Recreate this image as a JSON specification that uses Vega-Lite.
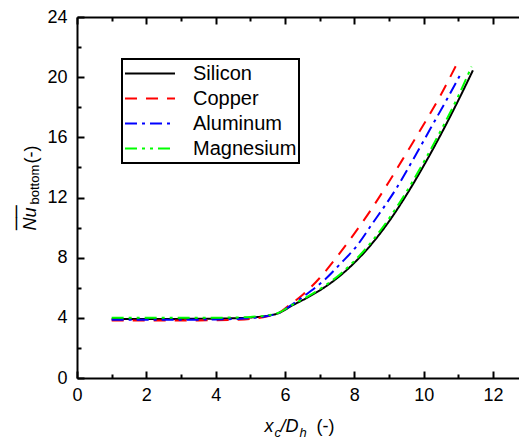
{
  "$schema": "https://vega.github.io/schema/vega-lite/v6.json",
  "width": 442,
  "height": 361,
  "autosize": {"type": "none"},
  "padding": {"left": 77, "top": 17, "right": 0, "bottom": 67},
  "background": "white",
  "config": {
    "view": {"stroke": null},
    "axis": {
      "grid": false,
      "domainColor": "black",
      "domainWidth": 2,
      "tickColor": "black",
      "tickWidth": 2,
      "labelFont": "Liberation Sans",
      "labelFontSize": 18,
      "labelColor": "black",
      "labelFlush": false,
      "labelOverlap": false,
      "titleFont": "Liberation Sans",
      "titleColor": "black",
      "titleFontWeight": "normal",
      "titleAlign": "left",
      "titleBaseline": "alphabetic"
    }
  },
  "data": {
    "values": [
      {"material": "Silicon", "x": 1.0, "y": 3.93},
      {"material": "Silicon", "x": 1.5, "y": 3.93},
      {"material": "Silicon", "x": 2.0, "y": 3.93},
      {"material": "Silicon", "x": 2.5, "y": 3.93},
      {"material": "Silicon", "x": 3.0, "y": 3.93},
      {"material": "Silicon", "x": 3.5, "y": 3.94},
      {"material": "Silicon", "x": 4.0, "y": 3.95},
      {"material": "Silicon", "x": 4.5, "y": 3.97},
      {"material": "Silicon", "x": 5.0, "y": 4.02},
      {"material": "Silicon", "x": 5.5, "y": 4.14},
      {"material": "Silicon", "x": 5.8, "y": 4.3},
      {"material": "Silicon", "x": 6.23, "y": 4.85},
      {"material": "Silicon", "x": 6.6, "y": 5.29},
      {"material": "Silicon", "x": 7.1, "y": 5.97},
      {"material": "Silicon", "x": 7.6, "y": 6.82},
      {"material": "Silicon", "x": 8.0, "y": 7.66},
      {"material": "Silicon", "x": 8.5, "y": 8.91},
      {"material": "Silicon", "x": 9.0, "y": 10.41},
      {"material": "Silicon", "x": 9.5, "y": 12.16},
      {"material": "Silicon", "x": 10.0, "y": 14.11},
      {"material": "Silicon", "x": 10.5, "y": 16.21},
      {"material": "Silicon", "x": 11.0, "y": 18.46},
      {"material": "Silicon", "x": 11.42, "y": 20.45},
      {"material": "Copper", "x": 1.0, "y": 3.82},
      {"material": "Copper", "x": 1.5, "y": 3.82},
      {"material": "Copper", "x": 2.0, "y": 3.82},
      {"material": "Copper", "x": 2.5, "y": 3.82},
      {"material": "Copper", "x": 3.0, "y": 3.82},
      {"material": "Copper", "x": 3.5, "y": 3.83},
      {"material": "Copper", "x": 4.0, "y": 3.84},
      {"material": "Copper", "x": 4.5, "y": 3.86},
      {"material": "Copper", "x": 5.0, "y": 3.92},
      {"material": "Copper", "x": 5.5, "y": 4.1},
      {"material": "Copper", "x": 5.8, "y": 4.3},
      {"material": "Copper", "x": 6.1, "y": 4.8},
      {"material": "Copper", "x": 6.52, "y": 5.55},
      {"material": "Copper", "x": 7.0, "y": 6.65},
      {"material": "Copper", "x": 7.48, "y": 8.0},
      {"material": "Copper", "x": 8.0, "y": 9.6},
      {"material": "Copper", "x": 8.5, "y": 11.25},
      {"material": "Copper", "x": 9.0, "y": 13.05},
      {"material": "Copper", "x": 9.5, "y": 14.94},
      {"material": "Copper", "x": 10.0, "y": 16.85},
      {"material": "Copper", "x": 10.5, "y": 18.85},
      {"material": "Copper", "x": 11.04, "y": 21.26},
      {"material": "Aluminum", "x": 1.0, "y": 3.87},
      {"material": "Aluminum", "x": 1.5, "y": 3.87},
      {"material": "Aluminum", "x": 2.0, "y": 3.87},
      {"material": "Aluminum", "x": 2.5, "y": 3.87},
      {"material": "Aluminum", "x": 3.0, "y": 3.87},
      {"material": "Aluminum", "x": 3.5, "y": 3.88},
      {"material": "Aluminum", "x": 4.0, "y": 3.89},
      {"material": "Aluminum", "x": 4.5, "y": 3.92},
      {"material": "Aluminum", "x": 5.0, "y": 3.98},
      {"material": "Aluminum", "x": 5.5, "y": 4.12},
      {"material": "Aluminum", "x": 5.8, "y": 4.3},
      {"material": "Aluminum", "x": 6.1, "y": 4.72},
      {"material": "Aluminum", "x": 6.52, "y": 5.4},
      {"material": "Aluminum", "x": 7.19, "y": 6.63},
      {"material": "Aluminum", "x": 7.6, "y": 7.6},
      {"material": "Aluminum", "x": 8.06, "y": 8.75},
      {"material": "Aluminum", "x": 8.5, "y": 10.2},
      {"material": "Aluminum", "x": 9.21, "y": 12.6},
      {"material": "Aluminum", "x": 9.69, "y": 14.5},
      {"material": "Aluminum", "x": 10.2, "y": 16.6},
      {"material": "Aluminum", "x": 10.7, "y": 18.65},
      {"material": "Aluminum", "x": 11.1, "y": 20.35},
      {"material": "Magnesium", "x": 1.0, "y": 4.0},
      {"material": "Magnesium", "x": 1.5, "y": 4.0},
      {"material": "Magnesium", "x": 2.0, "y": 4.0},
      {"material": "Magnesium", "x": 2.5, "y": 4.0},
      {"material": "Magnesium", "x": 3.0, "y": 4.0},
      {"material": "Magnesium", "x": 3.5, "y": 4.0},
      {"material": "Magnesium", "x": 4.0, "y": 4.01},
      {"material": "Magnesium", "x": 4.5, "y": 4.02},
      {"material": "Magnesium", "x": 5.0, "y": 4.06},
      {"material": "Magnesium", "x": 5.5, "y": 4.17},
      {"material": "Magnesium", "x": 5.8, "y": 4.32},
      {"material": "Magnesium", "x": 6.23, "y": 4.9},
      {"material": "Magnesium", "x": 6.6, "y": 5.35},
      {"material": "Magnesium", "x": 7.1, "y": 6.05},
      {"material": "Magnesium", "x": 7.6, "y": 6.92},
      {"material": "Magnesium", "x": 8.0, "y": 7.78},
      {"material": "Magnesium", "x": 8.5, "y": 9.06},
      {"material": "Magnesium", "x": 9.0, "y": 10.6},
      {"material": "Magnesium", "x": 9.5, "y": 12.37},
      {"material": "Magnesium", "x": 10.0, "y": 14.35},
      {"material": "Magnesium", "x": 10.5, "y": 16.47},
      {"material": "Magnesium", "x": 11.0, "y": 18.75},
      {"material": "Magnesium", "x": 11.38, "y": 20.7}
    ]
  },
  "resolve": {"axis": {"x": "independent", "y": "independent"}},
  "layer": [
    {
      "mark": {"type": "line", "strokeWidth": 2, "interpolate": "monotone"},
      "encoding": {
        "x": {
          "field": "x", "type": "quantitative",
          "scale": {"domain": [0, 12.75], "nice": false, "zero": false},
          "axis": {
            "orient": "bottom", "values": [0, 2, 4, 6, 8, 10, 12],
            "ticks": false, "labelPadding": 8, "domain": true,
            "title": "x", "titleFontStyle": "italic", "titleFontSize": 18,
            "titleX": 187, "titleY": 53, "titleAngle": 0
          }
        },
        "y": {
          "field": "y", "type": "quantitative",
          "scale": {"domain": [0, 24], "nice": false, "zero": false},
          "axis": {
            "orient": "left", "values": [0, 4, 8, 12, 16, 20, 24],
            "ticks": false, "labelPadding": 10, "domain": true,
            "title": "Nu", "titleFontStyle": "italic", "titleFontSize": 18,
            "titleX": -42, "titleY": 213, "titleAngle": -90
          }
        },
        "color": {
          "field": "material", "type": "nominal",
          "scale": {"domain": ["Silicon", "Copper", "Aluminum", "Magnesium"], "range": ["#000000", "#ff0000", "#0000ff", "#00ff00"]},
          "legend": {
            "title": null, "orient": "none", "legendX": 45, "legendY": 42,
            "symbolType": "stroke", "symbolSize": 2500, "symbolStrokeWidth": 2,
            "labelFont": "Liberation Sans", "labelFontSize": 20, "labelColor": "black",
            "labelOffset": 17, "padding": 2, "clipHeight": 25, "rowPadding": 0,
            "strokeColor": "black",
            "encode": {"legend": {"update": {"strokeWidth": {"value": 2}}}}
          }
        },
        "strokeDash": {
          "field": "material", "type": "nominal",
          "scale": {"domain": ["Silicon", "Copper", "Aluminum", "Magnesium"], "range": [[1, 0], [12, 9], [12, 5, 3, 5], [12, 5, 3, 5, 3, 5]]},
          "legend": {
            "title": null, "orient": "none", "legendX": 45, "legendY": 42,
            "symbolType": "stroke", "symbolSize": 2500, "symbolStrokeWidth": 2,
            "labelFont": "Liberation Sans", "labelFontSize": 20, "labelColor": "black",
            "labelOffset": 17, "padding": 2, "clipHeight": 25, "rowPadding": 0,
            "strokeColor": "black",
            "encode": {"legend": {"update": {"strokeWidth": {"value": 2}}}}
          }
        }
      }
    },
    {
      "mark": {"type": "point", "opacity": 0, "size": 0},
      "encoding": {
        "x": {
          "field": "x", "type": "quantitative",
          "scale": {"domain": [0, 12.75], "nice": false, "zero": false},
          "axis": {
            "orient": "bottom", "values": [0, 2, 4, 6, 8, 10, 12],
            "ticks": true, "tickSize": -7, "labels": false, "domain": false,
            "title": "c", "titleFontStyle": "italic", "titleFontSize": 13,
            "titleX": 197, "titleY": 58, "titleAngle": 0
          }
        },
        "y": {
          "field": "y", "type": "quantitative",
          "scale": {"domain": [0, 24], "nice": false, "zero": false},
          "axis": {
            "orient": "left", "values": [0, 4, 8, 12, 16, 20, 24],
            "ticks": true, "tickSize": -7, "labels": false, "domain": false,
            "title": "bottom", "titleFontSize": 13,
            "titleX": -39, "titleY": 187, "titleAngle": -90
          }
        }
      }
    },
    {
      "mark": {"type": "point", "opacity": 0, "size": 0},
      "encoding": {
        "x": {
          "field": "x", "type": "quantitative",
          "scale": {"domain": [0, 12.75], "nice": false, "zero": false},
          "axis": {
            "orient": "bottom", "values": [1, 3, 5, 7, 9, 11],
            "ticks": true, "tickSize": -4, "labels": false, "domain": false,
            "title": "/D", "titleFontStyle": "italic", "titleFontSize": 18,
            "titleX": 203, "titleY": 53, "titleAngle": 0
          }
        },
        "y": {
          "field": "y", "type": "quantitative",
          "scale": {"domain": [0, 24], "nice": false, "zero": false},
          "axis": {
            "orient": "left", "values": [2, 6, 10, 14, 18, 22],
            "ticks": true, "tickSize": -4, "labels": false, "domain": false,
            "title": "(-)", "titleFontSize": 18,
            "titleX": -41, "titleY": 146, "titleAngle": -90
          }
        }
      }
    },
    {
      "mark": {"type": "point", "opacity": 0, "size": 0},
      "encoding": {
        "x": {
          "field": "x", "type": "quantitative",
          "scale": {"domain": [0, 12.75], "nice": false, "zero": false},
          "axis": {
            "orient": "top", "values": [0, 2, 4, 6, 8, 10, 12],
            "ticks": true, "tickSize": -7, "labels": false, "domain": true,
            "title": "h", "titleFontStyle": "italic", "titleFontSize": 13,
            "titleX": 222, "titleY": 419, "titleAngle": 0
          }
        },
        "y": {
          "field": "y", "type": "quantitative",
          "scale": {"domain": [0, 24], "nice": false, "zero": false},
          "axis": {
            "orient": "left", "values": [],
            "ticks": false, "labels": false, "domain": false,
            "title": "__", "titleFontSize": 22,
            "titleX": -58, "titleY": 188, "titleAngle": 90
          }
        }
      }
    },
    {
      "mark": {"type": "point", "opacity": 0, "size": 0},
      "encoding": {
        "x": {
          "field": "x", "type": "quantitative",
          "scale": {"domain": [0, 12.75], "nice": false, "zero": false},
          "axis": {
            "orient": "top", "values": [1, 3, 5, 7, 9, 11],
            "ticks": true, "tickSize": -4, "labels": false, "domain": false,
            "title": "(-)", "titleFontSize": 18,
            "titleX": 239, "titleY": 414, "titleAngle": 0
          }
        }
      }
    }
  ]
}
